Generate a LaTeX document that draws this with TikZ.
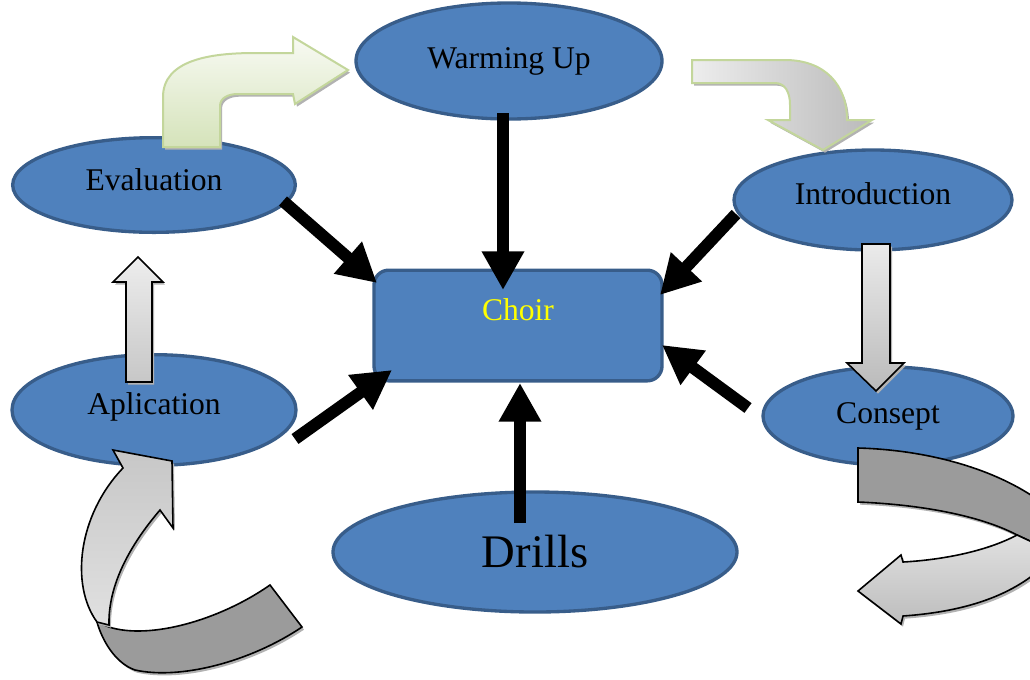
\documentclass[tikz,border=0pt]{standalone}
\usepackage{fontspec}
\setmainfont{Liberation Serif}
\usetikzlibrary{shapes.geometric,arrows.meta}
\definecolor{blu}{RGB}{79,129,189}
\definecolor{bord}{RGB}{56,93,138}
\definecolor{grn}{RGB}{195,214,155}
\definecolor{grntop}{RGB}{248,250,243}
\definecolor{grnbot}{RGB}{213,227,186}
\definecolor{choirtxt}{RGB}{255,255,0}
\definecolor{darkband}{RGB}{155,155,155}
\begin{document}
\begin{tikzpicture}[x=0.75pt,y=-0.75pt,
  stage/.style={ellipse, draw=bord, fill=blu, line width=2.5pt, inner sep=0pt,
    font=\fontsize{23.7}{28}\selectfont},
  choirbox/.style={rectangle, rounded corners=11pt, draw=bord, fill=blu, line width=2.5pt,
    inner sep=0pt, minimum width=216pt, minimum height=83pt},
  blk/.style={line width=9pt, -{Triangle[width=30pt,length=29pt]}},
  shadowed/.style={preaction={fill=black!30, transform canvas={shift={(1.5pt,-2pt)}}}},
  greenarrow/.style={shadowed, draw=grn, line width=1.5pt},
  grayarrow/.style={shadowed, draw=black, line width=1.2pt},
]
\useasboundingbox (0,0) rectangle (1030,679);

% ellipses and central box
\node[stage, minimum width=229.5pt, minimum height=87pt] (warm) at (509,61) {Warming Up};
\node[stage, minimum width=212pt, minimum height=71pt, text depth=7.5pt] (eval) at (154,185) {Evaluation};
\node[stage, minimum width=208.5pt, minimum height=75pt, text depth=9pt] (intro) at (873,200) {Introduction};
\node[stage, minimum width=213pt, minimum height=83pt, text depth=9.7pt] (apl) at (154,410) {Aplication};
\node[stage, minimum width=187.5pt, minimum height=73.5pt] (cons) at (888,416) {Consept};
\node[stage, minimum width=303pt, minimum height=90pt, font=\fontsize{35}{40}\selectfont] (drills) at (535,552) {Drills};
\node[choirbox, label={[yshift=12pt, text=choirtxt, font=\fontsize{23.7}{28}\selectfont]center:Choir}] (choir) at (518,325.5) {};

% block arrows
% Evaluation -> Warming Up (bent, green)
\path[greenarrow, top color=grntop, bottom color=grnbot]
  (163,147) -- (163,97) .. controls (163,60) and (210,53) .. (255,53) -- (293,53)
  -- (293,37) -- (348,70) -- (295,104) -- (293,94) -- (238,94)
  .. controls (228,94) and (220,98) .. (220,106) -- (220,147) -- cycle;
% Warming Up -> Introduction (bent, gray with green border)
\path[greenarrow, left color=black!7, right color=black!27]
  (692,60) -- (785,60) .. controls (825,60) and (847,85) .. (847,120) -- (872,120)
  -- (823,150) -- (768,120) -- (790,120) -- (790,105)
  .. controls (790,92) and (785,83) .. (775,83) -- (692,83) -- cycle;
% Aplication -> Evaluation (up arrow)
\path[grayarrow, top color=black!7, bottom color=black!22]
  (126,382) -- (126,282) -- (113,282) -- (138,257) -- (163,282) -- (152,282) -- (152,382) -- cycle;
% Introduction -> Consept (down arrow)
\path[grayarrow, top color=black!8, bottom color=black!27]
  (862,244) -- (890,244) -- (890,363) -- (904,363) -- (876,391) -- (847,363) -- (862,363) -- cycle;

% bottom-left curved arrow
\path[grayarrow, fill=darkband]
  (270,585) -- (302,627) .. controls (250,662) and (180,680) .. (135,670)
  .. controls (115,663) and (102,640) .. (97,622) -- (109,627)
  .. controls (150,640) and (220,620) .. (270,585) -- cycle;
\path[grayarrow, top color=black!22, bottom color=black!12]
  (97,622) .. controls (70,585) and (78,515) .. (123,468) -- (113,450) -- (172,461)
  -- (173,528) -- (160,510) .. controls (130,545) and (108,585) .. (109,625) -- cycle;

% bottom-right curved arrow
\begin{scope}
\clip (0,0) rectangle (1030,679);
\path[grayarrow, fill=darkband]
  (858,448) .. controls (930,450) and (1000,470) .. (1045,505) -- (1045,548)
  -- (1017,535) .. controls (985,518) and (930,505) .. (858,502) -- cycle;
\path[grayarrow, top color=black!12, bottom color=black!26]
  (1017,535) .. controls (985,552) and (940,560) .. (903,562) -- (901,555) -- (858,591)
  -- (901,624) -- (903,616) .. controls (960,612) and (1010,598) .. (1045,565)
  -- (1045,548) -- cycle;
\end{scope}

% black arrows to the choir
\coordinate (w1) at (503,113);  \coordinate (w2) at (503,290);
\coordinate (e1) at (283,201);  \coordinate (e2) at (377,283);
\coordinate (i1) at (736,214);  \coordinate (i2) at (660,295);
\coordinate (a1) at (295,439);  \coordinate (a2) at (392,370);
\coordinate (c1) at (748,408);  \coordinate (c2) at (662,345);
\coordinate (d1) at (520,523);  \coordinate (d2) at (520,383);
\draw[blk] (w1) -- (w2);
\draw[blk] (e1) -- (e2);
\draw[blk] (i1) -- (i2);
\draw[blk] (a1) -- (a2);
\draw[blk] (c1) -- (c2);
\draw[blk] (d1) -- (d2);
\end{tikzpicture}
\end{document}
